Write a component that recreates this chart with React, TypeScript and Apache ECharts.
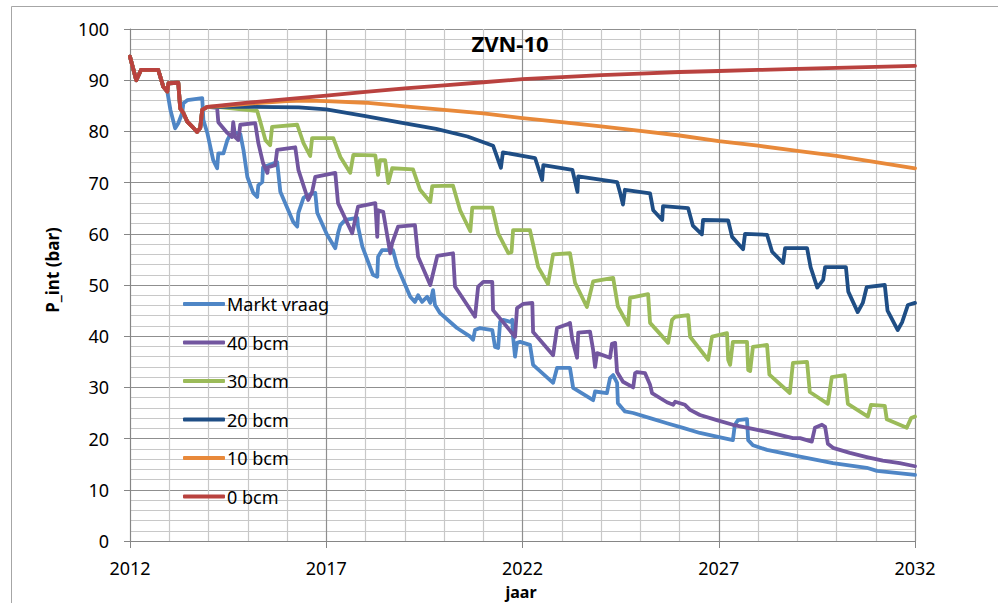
import React, { useEffect, useRef } from 'react';
import * as echarts from 'echarts';

type Pt = [number, number];

const START_YEAR = 2012;
const END_YEAR = 2032;
const chartTitle = 'ZVN-10';
const yAxisTitle = 'P_int (bar)';
const xAxisTitle = 'jaar';
const seriesNames = ['Markt vraag', '40 bcm', '30 bcm', '20 bcm', '10 bcm', '0 bcm'];
const seriesColors = ['#4f86c6', '#72569f', '#9bbb59', '#1f4e85', '#e8893a', '#b9423f'];

// shared history (all scenarios)
const commonHistory: Pt[] = [
  [2012.0, 94.6], [2012.16, 90.0], [2012.28, 92.0], [2012.72, 92.0], [2012.85, 88.7], [2012.95, 87.8],
];
// shared part of all production-cap scenarios until 2014
const capHistory: Pt[] = [
  [2012.98, 89.4], [2013.23, 89.5], [2013.28, 84.5], [2013.36, 83.6], [2013.46, 81.9], [2013.59, 80.9],
  [2013.71, 79.9], [2013.79, 80.7], [2013.84, 84.2], [2013.97, 84.8],
];

const marktVraag: Pt[] = [
  [2013.03, 84.2], [2013.15, 80.6], [2013.23, 81.6], [2013.33, 83.6], [2013.36, 85.5], [2013.46, 86.1],
  [2013.84, 86.5], [2013.87, 82.2], [2013.97, 79.7], [2014.12, 74.4], [2014.22, 72.8], [2014.25, 75.7],
  [2014.38, 75.7], [2014.48, 78.3], [2014.55, 79.3], [2014.73, 79.7], [2014.81, 79.5], [2014.89, 76.4],
  [2014.99, 71.1], [2015.14, 68.0], [2015.24, 67.2], [2015.27, 69.5], [2015.37, 70.1], [2015.39, 73.0],
  [2015.75, 74.0], [2015.83, 68.2], [2016.16, 62.3], [2016.26, 61.4], [2016.29, 64.1], [2016.42, 67.0],
  [2016.54, 67.6], [2016.72, 68.0], [2016.77, 64.1], [2017.02, 59.8], [2017.23, 57.2], [2017.30, 60.1],
  [2017.36, 61.7], [2017.48, 62.7], [2017.79, 63.1], [2017.81, 61.4], [2017.92, 57.5], [2018.19, 52.0],
  [2018.30, 51.6], [2018.32, 55.5], [2018.42, 56.8], [2018.70, 56.8], [2018.81, 53.6], [2019.14, 47.7],
  [2019.26, 46.7], [2019.34, 48.0], [2019.44, 46.7], [2019.57, 47.7], [2019.65, 46.5], [2019.72, 49.0],
  [2019.77, 46.1], [2019.90, 44.5], [2020.33, 41.6], [2020.67, 39.9], [2020.74, 39.3], [2020.79, 41.2],
  [2020.92, 41.6], [2021.23, 41.2], [2021.30, 37.9], [2021.38, 37.7], [2021.43, 42.8], [2021.51, 43.2],
  [2021.69, 42.8], [2021.74, 43.2], [2021.76, 39.9], [2021.81, 36.0], [2021.86, 38.7], [2021.94, 38.9],
  [2022.19, 38.3], [2022.27, 34.4], [2022.78, 30.9], [2022.88, 33.8], [2023.21, 33.8], [2023.29, 29.9],
  [2023.80, 27.5], [2023.85, 29.2], [2024.15, 28.9], [2024.23, 31.8], [2024.31, 32.4], [2024.41, 30.9],
  [2024.43, 26.9], [2024.61, 25.3], [2024.82, 25.0], [2025.25, 24.0], [2025.68, 23.0], [2026.09, 22.1],
  [2026.52, 21.1], [2026.95, 20.4], [2027.36, 19.7], [2027.41, 22.7], [2027.49, 23.6], [2027.72, 23.8],
  [2027.75, 19.7], [2027.87, 18.7], [2028.23, 17.8], [2029.07, 16.5], [2029.91, 15.2], [2030.77, 14.3],
  [2031.03, 13.7], [2032.0, 12.9],
];

const bcm40: Pt[] = [
  [2014.22, 84.6], [2014.25, 81.8], [2014.48, 79.7], [2014.60, 78.9], [2014.63, 81.8], [2014.68, 78.9],
  [2014.76, 78.3], [2014.81, 81.3], [2015.19, 81.6], [2015.27, 77.7], [2015.39, 73.8], [2015.50, 71.9],
  [2015.52, 73.0], [2015.70, 73.4], [2015.75, 76.4], [2016.21, 76.9], [2016.29, 72.5], [2016.54, 66.6],
  [2016.64, 68.2], [2016.72, 71.1], [2017.23, 71.9], [2017.30, 66.0], [2017.66, 60.1], [2017.81, 65.3],
  [2018.25, 66.0], [2018.30, 59.4], [2018.32, 64.6], [2018.45, 64.3], [2018.63, 56.2], [2018.68, 58.2],
  [2018.83, 61.4], [2019.26, 61.7], [2019.34, 55.5], [2019.65, 50.0], [2019.83, 55.7], [2020.23, 56.2],
  [2020.28, 49.7], [2020.79, 43.8], [2020.87, 49.7], [2021.00, 50.6], [2021.23, 50.6], [2021.25, 45.1],
  [2021.81, 39.9], [2021.86, 45.5], [2022.02, 46.3], [2022.25, 46.5], [2022.27, 40.8], [2022.78, 36.3],
  [2022.88, 41.6], [2023.16, 42.4], [2023.21, 42.6], [2023.27, 39.3], [2023.39, 35.8], [2023.42, 40.7],
  [2023.72, 40.9], [2023.80, 37.3], [2023.85, 34.0], [2023.90, 36.7], [2024.23, 35.8], [2024.28, 38.5],
  [2024.36, 38.7], [2024.41, 33.0], [2024.56, 31.1], [2024.82, 30.0], [2024.87, 32.8], [2024.92, 33.0],
  [2025.12, 32.8], [2025.25, 30.5], [2025.30, 28.9], [2025.68, 27.1], [2025.84, 26.6], [2025.89, 27.2],
  [2026.14, 26.6], [2026.27, 25.6], [2026.52, 24.6], [2026.95, 23.6], [2027.36, 22.7], [2027.80, 22.0],
  [2028.23, 21.3], [2028.89, 20.1], [2029.07, 20.1], [2029.37, 19.4], [2029.45, 22.1], [2029.63, 22.7],
  [2029.71, 22.3], [2029.78, 19.0], [2029.91, 18.2], [2030.34, 17.2], [2030.77, 16.4], [2031.18, 15.7],
  [2031.61, 15.2], [2032.0, 14.6],
];

const bcm30: Pt[] = [
  [2014.22, 84.8], [2015.24, 84.0], [2015.32, 81.9], [2015.45, 78.3], [2015.57, 77.3], [2015.62, 80.9],
  [2016.26, 81.3], [2016.42, 77.7], [2016.59, 75.2], [2016.64, 78.7], [2017.18, 78.7], [2017.36, 75.0],
  [2017.61, 71.9], [2017.69, 75.4], [2018.25, 75.3], [2018.32, 71.5], [2018.37, 74.4], [2018.50, 74.4],
  [2018.58, 69.9], [2018.68, 72.8], [2019.21, 72.6], [2019.39, 68.6], [2019.65, 66.2], [2019.70, 69.3],
  [2020.23, 69.4], [2020.41, 64.6], [2020.67, 60.5], [2020.72, 65.1], [2021.23, 65.1], [2021.38, 60.1],
  [2021.64, 56.2], [2021.72, 56.4], [2021.76, 60.7], [2022.19, 60.7], [2022.40, 53.5], [2022.65, 50.2],
  [2022.78, 56.0], [2023.21, 56.2], [2023.34, 50.4], [2023.64, 45.7], [2023.80, 50.7], [2024.31, 51.4],
  [2024.43, 45.8], [2024.69, 42.2], [2024.74, 47.5], [2025.20, 48.2], [2025.25, 42.6], [2025.71, 38.7],
  [2025.81, 43.2], [2025.89, 43.8], [2026.22, 44.1], [2026.27, 39.9], [2026.73, 35.4], [2026.83, 39.9],
  [2027.21, 40.6], [2027.24, 35.4], [2027.29, 34.4], [2027.36, 38.9], [2027.72, 38.9], [2027.75, 33.4],
  [2027.80, 33.2], [2027.87, 37.9], [2028.23, 38.3], [2028.29, 32.5], [2028.81, 28.9], [2028.89, 34.8],
  [2029.25, 35.0], [2029.32, 29.1], [2029.78, 26.8], [2029.88, 32.0], [2030.21, 32.4], [2030.29, 26.8],
  [2030.80, 24.3], [2030.88, 26.6], [2031.23, 26.4], [2031.28, 23.8], [2031.79, 22.1], [2031.90, 24.0],
  [2032.0, 24.3],
];

const bcm20: Pt[] = [
  [2014.22, 84.8], [2015.0, 84.8], [2016.3, 84.7], [2017.0, 84.3], [2018.0, 83.0], [2018.9, 81.7],
  [2019.8, 80.5], [2020.6, 79.0], [2021.25, 77.2], [2021.45, 72.9], [2021.50, 75.9], [2022.32, 74.8],
  [2022.50, 70.5], [2022.53, 73.4], [2023.27, 72.5], [2023.40, 68.2], [2023.42, 71.2], [2024.41, 70.1],
  [2024.49, 67.9], [2024.56, 65.7], [2024.61, 68.6], [2025.25, 67.9], [2025.33, 64.6], [2025.56, 62.7],
  [2025.58, 65.4], [2026.22, 65.0], [2026.34, 61.6], [2026.57, 59.9], [2026.60, 62.7], [2027.24, 62.6],
  [2027.34, 59.4], [2027.62, 57.0], [2027.67, 60.0], [2028.23, 59.8], [2028.36, 56.5], [2028.64, 54.3],
  [2028.69, 57.2], [2029.25, 57.2], [2029.34, 53.5], [2029.51, 49.5], [2029.66, 51.0], [2029.71, 53.5],
  [2030.24, 53.5], [2030.30, 48.7], [2030.54, 44.7], [2030.67, 46.5], [2030.77, 49.6], [2031.23, 50.0],
  [2031.30, 45.0], [2031.56, 41.2], [2031.67, 42.7], [2031.82, 46.1], [2032.0, 46.5],
];

const bcm10: Pt[] = [
  [2014.22, 84.9], [2015.0, 85.4], [2016.0, 85.9], [2016.5, 86.0], [2017.0, 85.9], [2018.0, 85.6],
  [2019.0, 84.9], [2020.0, 84.2], [2021.0, 83.5], [2022.0, 82.6], [2023.0, 81.8], [2024.0, 81.0],
  [2025.0, 80.1], [2026.0, 79.2], [2027.0, 78.1], [2028.0, 77.2], [2029.0, 76.2], [2030.0, 75.2],
  [2031.0, 74.0], [2032.0, 72.8],
];

const bcm0: Pt[] = [
  [2015.0, 85.6], [2016.0, 86.3], [2017.0, 87.0], [2018.0, 87.7], [2019.0, 88.4], [2020.0, 89.0],
  [2021.0, 89.6], [2022.0, 90.2], [2023.0, 90.6], [2024.0, 91.0], [2025.0, 91.3], [2026.0, 91.6],
  [2027.0, 91.8], [2028.0, 92.0], [2029.0, 92.2], [2030.0, 92.4], [2031.0, 92.6], [2032.0, 92.8],
];

const seriesData: Pt[][] = [
  [...commonHistory, ...marktVraag],
  [...commonHistory, ...capHistory, ...bcm40],
  [...commonHistory, ...capHistory, ...bcm30],
  [...commonHistory, ...capHistory, ...bcm20],
  [...commonHistory, ...capHistory, ...bcm10],
  [...commonHistory, ...capHistory, ...bcm0],
];

const FONT = "'Noto Sans', 'Open Sans', sans-serif";

export default function App() {
  const ref = useRef<HTMLDivElement>(null);
  useEffect(() => {
    document.body.style.margin = '0';
    if (!ref.current) return;
    const chart = echarts.init(ref.current, undefined, { renderer: 'svg' });
    const option: any = {
      animation: false,
      backgroundColor: '#ffffff',
      title: {
        text: chartTitle,
        left: 505,
        top: 27,
        textAlign: 'center',
        textStyle: { fontFamily: FONT, fontSize: 22, fontWeight: 'bold', color: '#000' },
      },
      legend: {
        orient: 'vertical',
        left: 178,
        top: 289,
        icon: 'roundRect',
        itemWidth: 42,
        itemHeight: 4,
        itemGap: 18.5,
        textStyle: {
          fontFamily: FONT,
          fontSize: 18,
          lineHeight: 20,
          color: '#000',
          padding: [0, 0, 0, -3],
        },
        data: seriesNames,
      },
      grid: { left: 130, right: 83, top: 29, bottom: 62, containLabel: false },
      xAxis: {
        type: 'value',
        min: 0,
        max: END_YEAR - START_YEAR,
        interval: 5,
        axisLine: { show: true, lineStyle: { color: '#868686', width: 1 } },
        axisTick: { show: true, length: 7, lineStyle: { color: '#868686' } },
        axisLabel: {
          margin: 18,
          fontFamily: FONT,
          fontSize: 18,
          lineHeight: 18,
          color: '#000',
          formatter: (v: number) => String(START_YEAR + v),
        },
        splitLine: { show: true, lineStyle: { color: '#8f8f8f', width: 1.2 } },
        minorTick: { show: false, splitNumber: 5 },
        minorSplitLine: { show: true, lineStyle: { color: '#c8c8c8', width: 1.2 } },
      },
      yAxis: {
        type: 'value',
        min: 0,
        max: 100,
        interval: 10,
        axisLine: { show: true, lineStyle: { color: '#868686', width: 1 } },
        axisTick: { show: true, length: 6, lineStyle: { color: '#868686' } },
        axisLabel: { margin: 21, fontFamily: FONT, fontSize: 18, color: '#000' },
        splitLine: { show: true, lineStyle: { color: '#8f8f8f', width: 1.2 } },
        minorTick: { show: false, splitNumber: 5 },
        minorSplitLine: { show: true, lineStyle: { color: '#c8c8c8', width: 1.2 } },
      },
      graphic: [
        {
          type: 'rect',
          silent: true,
          z: -10,
          shape: { x: 11.5, y: 6.5, width: 1200, height: 800 },
          style: { fill: 'none', stroke: '#a6a6a6', lineWidth: 1 },
        },
        {
          type: 'text',
          x: 52,
          y: 270,
          rotation: Math.PI / 2,
          style: {
            text: yAxisTitle,
            align: 'center',
            verticalAlign: 'middle',
            fontFamily: FONT,
            fontSize: 17,
            fontWeight: 'bold',
            fill: '#000',
          },
        },
        {
          type: 'text',
          x: 521,
          y: 592,
          style: {
            text: xAxisTitle,
            align: 'center',
            verticalAlign: 'middle',
            fontFamily: FONT,
            fontSize: 16,
            lineHeight: 16,
            fontWeight: 'bold',
            fill: '#000',
          },
        },
      ],
      series: seriesNames.map((name, i) => ({
        name,
        type: 'line',
        showSymbol: false,
        symbol: 'none',
        color: seriesColors[i],
        lineStyle: { color: seriesColors[i], width: 3.8, cap: 'round', join: 'round' },
        data: seriesData[i].map(([yr, v]) => [yr - START_YEAR, v]),
      })),
    };
    chart.setOption(option);
    return () => chart.dispose();
  }, []);
  return <div ref={ref} style={{ width: 998, height: 603 }} />;
}
